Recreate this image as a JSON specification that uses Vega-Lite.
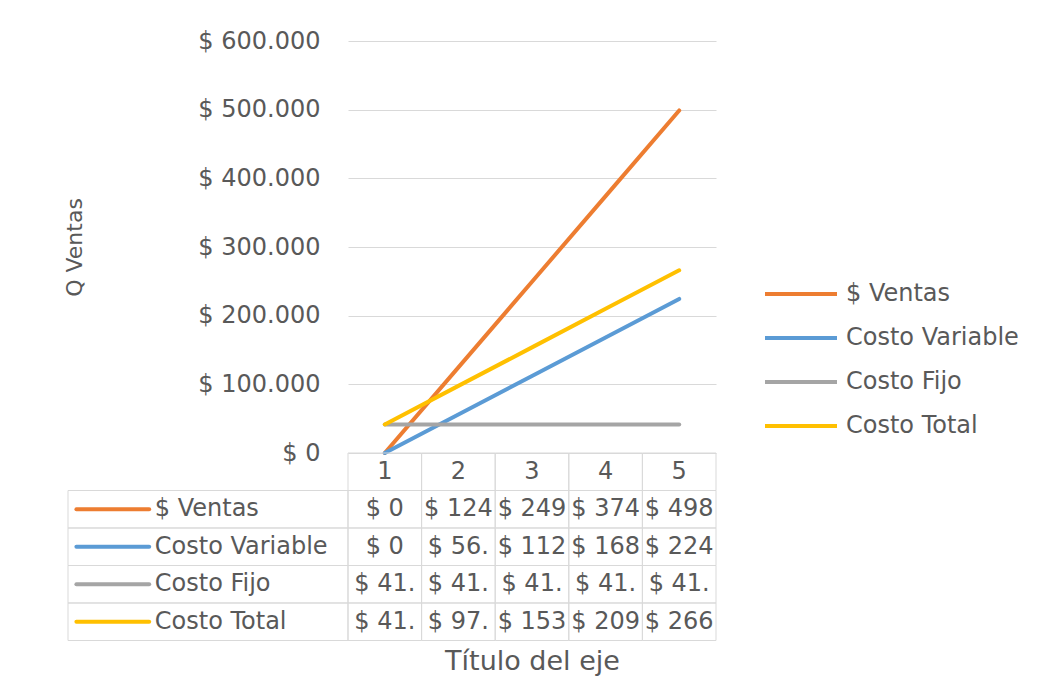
{
  "$schema": "https://vega.github.io/schema/vega-lite/v6.json",
  "padding": {"left": 63, "top": 29, "right": 5, "bottom": 5},
  "background": "white",
  "config": {
    "view": {"stroke": null},
    "font": "DejaVu Sans",
    "locale": {
      "number": {"decimal": ",", "thousands": ".", "grouping": [3], "currency": ["$ ", ""]}
    }
  },
  "datasets": {
    "costos": [
      {"serie": "$ Ventas", "q": 1, "valor": 0},
      {"serie": "$ Ventas", "q": 2, "valor": 124700},
      {"serie": "$ Ventas", "q": 3, "valor": 249400},
      {"serie": "$ Ventas", "q": 4, "valor": 374100},
      {"serie": "$ Ventas", "q": 5, "valor": 498800},
      {"serie": "Costo Variable", "q": 1, "valor": 0},
      {"serie": "Costo Variable", "q": 2, "valor": 56100},
      {"serie": "Costo Variable", "q": 3, "valor": 112200},
      {"serie": "Costo Variable", "q": 4, "valor": 168300},
      {"serie": "Costo Variable", "q": 5, "valor": 224400},
      {"serie": "Costo Fijo", "q": 1, "valor": 41650},
      {"serie": "Costo Fijo", "q": 2, "valor": 41650},
      {"serie": "Costo Fijo", "q": 3, "valor": 41650},
      {"serie": "Costo Fijo", "q": 4, "valor": 41650},
      {"serie": "Costo Fijo", "q": 5, "valor": 41650},
      {"serie": "Costo Total", "q": 1, "valor": 41650},
      {"serie": "Costo Total", "q": 2, "valor": 97750},
      {"serie": "Costo Total", "q": 3, "valor": 153850},
      {"serie": "Costo Total", "q": 4, "valor": 209950},
      {"serie": "Costo Total", "q": 5, "valor": 266050}
    ],
    "series": [
      {"serie": "$ Ventas"},
      {"serie": "Costo Variable"},
      {"serie": "Costo Fijo"},
      {"serie": "Costo Total"}
    ],
    "cantidades": [
      {"q": 1}, {"q": 2}, {"q": 3}, {"q": 4}, {"q": 5}
    ]
  },
  "columns": 2,
  "spacing": 0,
  "bounds": "flush",
  "resolve": {
    "scale": {"color": "independent", "x": "independent", "y": "independent"},
    "legend": {"color": "independent"}
  },
  "concat": [
    {
      "width": 280,
      "height": 412,
      "data": {"values": [{}]},
      "mark": {"type": "text", "text": ""}
    },
    {
      "width": 368,
      "height": 412,
      "data": {"name": "costos"},
      "mark": {"type": "line", "strokeWidth": 4, "strokeCap": "round", "strokeJoin": "round"},
      "encoding": {
        "x": {"field": "q", "type": "ordinal", "axis": null, "scale": {"padding": 0.5}},
        "y": {
          "field": "valor",
          "type": "quantitative",
          "scale": {"domain": [0, 600000], "nice": false},
          "axis": {
            "title": "Q Ventas",
            "values": [0, 100000, 200000, 300000, 400000, 500000, 600000],
            "format": "$,.0f",
            "labelFont": "DejaVu Sans",
            "labelFontSize": 24,
            "labelColor": "#595959",
            "labelPadding": 28,
            "ticks": false,
            "tickSize": 0,
            "domain": false,
            "grid": true,
            "gridColor": "#D9D9D9",
            "gridWidth": 1,
            "titleFont": "DejaVu Sans",
            "titleFontSize": 22,
            "titleFontWeight": "normal",
            "titleColor": "#595959",
            "titlePadding": 111
          }
        },
        "color": {
          "field": "serie",
          "type": "nominal",
          "scale": {
            "domain": ["$ Ventas", "Costo Variable", "Costo Fijo", "Costo Total"],
            "range": ["#ED7D31", "#5B9BD5", "#A5A5A5", "#FFC000"]
          },
          "legend": {
            "title": null,
            "orient": "none",
            "legendX": 415,
            "legendY": 241,
            "padding": 0,
            "symbolType": "stroke",
            "symbolSize": 5184,
            "symbolStrokeWidth": 4,
            "clipHeight": 24,
            "rowPadding": 20,
            "labelOffset": 7,
            "labelLimit": 400,
            "labelFont": "DejaVu Sans",
            "labelFontSize": 24,
            "labelColor": "#595959"
          }
        }
      }
    },
    {
      "width": 280,
      "height": 187.5,
      "data": {"name": "series"},
      "encoding": {
        "y": {
          "field": "serie",
          "type": "nominal",
          "axis": null,
          "scale": {
            "domain": ["Q", "$ Ventas", "Costo Variable", "Costo Fijo", "Costo Total"],
            "paddingInner": 0,
            "paddingOuter": 0
          }
        }
      },
      "layer": [
        {
          "mark": {"type": "rect", "filled": false, "stroke": "#D9D9D9", "strokeWidth": 1},
          "encoding": {
            "x": {"datum": 0, "type": "quantitative", "axis": null, "scale": {"domain": [0, 100], "nice": false, "zero": false}},
            "x2": {"datum": 100}
          }
        },
        {
          "mark": {"type": "rule", "strokeWidth": 4, "strokeCap": "round"},
          "encoding": {
            "x": {"datum": 3, "type": "quantitative"},
            "x2": {"datum": 29},
            "color": {
              "field": "serie",
              "type": "nominal",
              "legend": null,
              "scale": {
                "domain": ["$ Ventas", "Costo Variable", "Costo Fijo", "Costo Total"],
                "range": ["#ED7D31", "#5B9BD5", "#A5A5A5", "#FFC000"]
              }
            }
          }
        },
        {
          "mark": {"type": "text", "align": "left", "baseline": "middle", "fontSize": 24, "font": "DejaVu Sans", "color": "#595959"},
          "encoding": {
            "x": {"datum": 31, "type": "quantitative"},
            "text": {"field": "serie"}
          }
        }
      ]
    },
    {
      "width": 368,
      "height": 187.5,
      "encoding": {
        "x": {
          "field": "q",
          "type": "ordinal",
          "scale": {"paddingInner": 0, "paddingOuter": 0},
          "axis": {
            "title": "Título del eje",
            "labels": false,
            "ticks": false,
            "domain": false,
            "titleFont": "DejaVu Sans",
            "titleFontSize": 27,
            "titleFontWeight": "normal",
            "titleColor": "#595959",
            "titlePadding": 8
          }
        }
      },
      "layer": [
        {
          "data": {"name": "cantidades"},
          "mark": {"type": "rect", "filled": false, "stroke": "#D9D9D9", "strokeWidth": 1},
          "encoding": {
            "y": {
              "datum": "Q",
              "type": "nominal",
              "axis": null,
              "scale": {
                "domain": ["Q", "$ Ventas", "Costo Variable", "Costo Fijo", "Costo Total"],
                "paddingInner": 0,
                "paddingOuter": 0
              }
            }
          }
        },
        {
          "data": {"name": "cantidades"},
          "mark": {"type": "text", "align": "center", "baseline": "middle", "fontSize": 24, "font": "DejaVu Sans", "color": "#595959"},
          "encoding": {
            "y": {"datum": "Q", "type": "nominal"},
            "text": {"field": "q", "type": "ordinal"}
          }
        },
        {
          "data": {"name": "costos"},
          "mark": {"type": "rect", "filled": false, "stroke": "#D9D9D9", "strokeWidth": 1},
          "encoding": {
            "y": {"field": "serie", "type": "nominal"}
          }
        },
        {
          "data": {"name": "costos"},
          "mark": {"type": "text", "align": "center", "baseline": "middle", "fontSize": 24, "font": "DejaVu Sans", "color": "#595959", "limit": 71, "ellipsis": "\u200b"},
          "encoding": {
            "y": {"field": "serie", "type": "nominal"},
            "text": {"field": "valor", "type": "quantitative", "format": "$,.0f"}
          }
        }
      ]
    }
  ]
}
